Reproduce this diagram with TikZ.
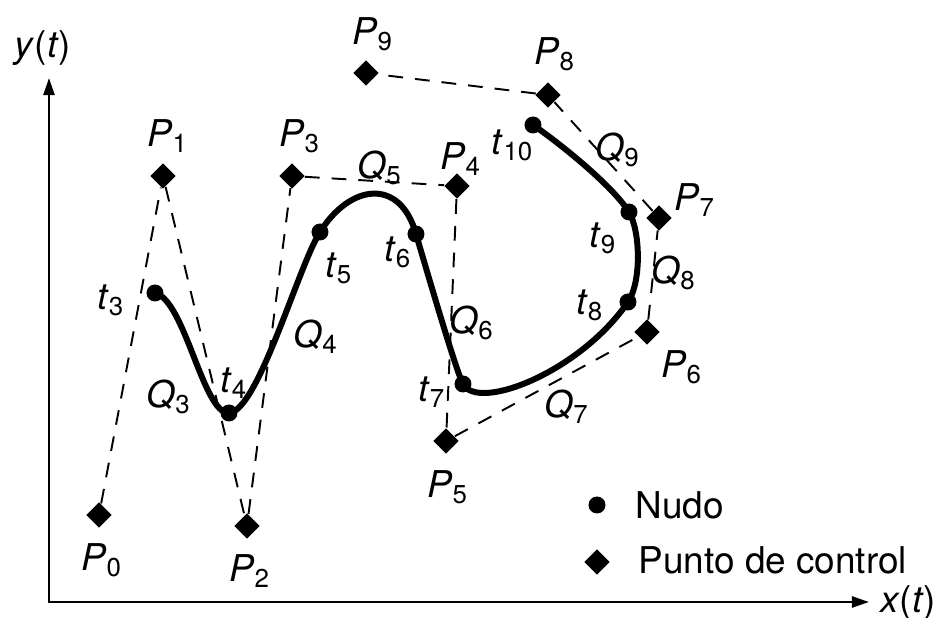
\documentclass[tikz,border=0pt]{standalone}
\usepackage{fontspec}
\setmainfont{TeX Gyre Heros}
\usetikzlibrary{shapes.geometric,arrows.meta}
\newlength{\du}
\setlength{\du}{0.01cm}
\newcommand{\sub}[2]{\textit{#1}\textsubscript{#2}}

\begin{document}
\begin{tikzpicture}[
  font=\fontsize{10.5}{12}\selectfont,
  ctrlpt/.style={diamond,fill=black,inner sep=0pt,minimum size=26\du},
  knot/.style={circle,fill=black,inner sep=0pt,minimum size=17\du},
  ctrlline/.style={line width=0.55pt,dash pattern=on 4.2pt off 3.4pt},
  spline/.style={line width=1.7pt},
  axis/.style={line width=0.7pt,{Triangle[length=0.17cm,width=0.11cm]}-{Triangle[length=0.17cm,width=0.11cm]}},
  lbl/.style={inner sep=0pt}]
\pgftransformxscale{1.000000}
\pgftransformyscale{-1.000000}
\useasboundingbox (0\du,0\du) rectangle (938\du,618\du);
% axes
\coordinate (o) at (49\du,602\du);
\coordinate (ytip) at (49\du,78\du);
\coordinate (xtip) at (869\du,602\du);
\draw[axis] (ytip) -- (o) -- (xtip);
\node[lbl] (ylab) at (43\du,48\du) {\textit{y}(\textit{t})};
\node[lbl] (xlab) at (908\du,603\du) {\textit{x}(\textit{t})};
% control points
\node[ctrlpt] (p0) at (99\du,515\du) {};
\node[ctrlpt] (p1) at (163\du,176\du) {};
\node[ctrlpt] (p2) at (247\du,526\du) {};
\node[ctrlpt] (p3) at (292\du,176\du) {};
\node[ctrlpt] (p4) at (457\du,186\du) {};
\node[ctrlpt] (p5) at (446\du,441\du) {};
\node[ctrlpt] (p6) at (647\du,332\du) {};
\node[ctrlpt] (p7) at (659\du,218\du) {};
\node[ctrlpt] (p8) at (548\du,95\du) {};
\node[ctrlpt] (p9) at (366\du,73\du) {};
\draw[ctrlline] (p0) -- (p1) -- (p2) -- (p3) -- (p4) -- (p5) -- (p6) -- (p7) -- (p8) -- (p9);
\node[lbl] (lp0) at (102\du,560\du) {\sub{P}{0}};
\node[lbl] (lp1) at (168\du,136\du) {\sub{P}{1}};
\node[lbl] (lp2) at (250\du,571\du) {\sub{P}{2}};
\node[lbl] (lp3) at (300\du,136\du) {\sub{P}{3}};
\node[lbl] (lp4) at (461\du,159\du) {\sub{P}{4}};
\node[lbl] (lp5) at (448\du,487\du) {\sub{P}{5}};
\node[lbl] (lp6) at (682\du,367\du) {\sub{P}{6}};
\node[lbl] (lp7) at (695\du,200\du) {\sub{P}{7}};
\node[lbl] (lp8) at (555\du,54\du) {\sub{P}{8}};
\node[lbl] (lp9) at (373\du,34\du) {\sub{P}{9}};
% knots and curve
\coordinate (k3) at (155\du,293\du);
\coordinate (k4) at (229\du,413\du);
\coordinate (k5) at (320\du,232\du);
\coordinate (k6) at (416\du,234\du);
\coordinate (k7) at (463\du,384\du);
\coordinate (k8) at (628\du,302\du);
\coordinate (k9) at (629\du,212\du);
\coordinate (k10) at (533\du,125\du);
\draw[spline] (k3) .. controls (185\du,300\du) and (203\du,414\du) .. (k4)
  .. controls (258\du,411\du) and (298\du,267\du) .. (k5)
  .. controls (350\du,184\du) and (400\du,177\du) .. (k6)
  .. controls (426\du,268\du) and (456\du,371\du) .. (k7)
  .. controls (478\du,412\du) and (580\du,372\du) .. (k8)
  .. controls (642\du,281\du) and (640\du,230\du) .. (k9)
  .. controls (612\du,185\du) and (558\du,142\du) .. (k10);
\foreach \k in {3,...,10}
  \node[knot] (t\k) at (k\k) {};
\node[lbl] (lt3) at (111\du,300\du) {\sub{t}{3}};
\node[lbl] (lt4) at (234\du,383\du) {\sub{t}{4}};
\node[lbl] (lt5) at (339\du,268\du) {\sub{t}{5}};
\node[lbl] (lt6) at (398\du,252\du) {\sub{t}{6}};
\node[lbl] (lt7) at (432\du,392\du) {\sub{t}{7}};
\node[lbl] (lt8) at (590\du,305\du) {\sub{t}{8}};
\node[lbl] (lt9) at (603\du,238\du) {\sub{t}{9}};
\node[lbl] (lt10) at (513\du,145\du) {\sub{t}{10}};
% segments
\node[lbl] (q3) at (169\du,397\du) {\sub{Q}{3}};
\node[lbl] (q4) at (316\du,337\du) {\sub{Q}{4}};
\node[lbl] (q5) at (380\du,168\du) {\sub{Q}{5}};
\node[lbl] (q6) at (472\du,323\du) {\sub{Q}{6}};
\node[lbl] (q7) at (567\du,407\du) {\sub{Q}{7}};
\node[lbl] (q8) at (674\du,273\du) {\sub{Q}{8}};
\node[lbl] (q9) at (618\du,150\du) {\sub{Q}{9}};
% legend
\node[knot] (legknot) at (597\du,505\du) {};
\node[lbl,anchor=west] (legnudo) at (635\du,505\du) {Nudo};
\node[ctrlpt] (legctrl) at (597\du,562\du) {};
\node[lbl,anchor=west] (legpunto) at (638\du,560\du) {Punto de control};
\end{tikzpicture}
\end{document}
